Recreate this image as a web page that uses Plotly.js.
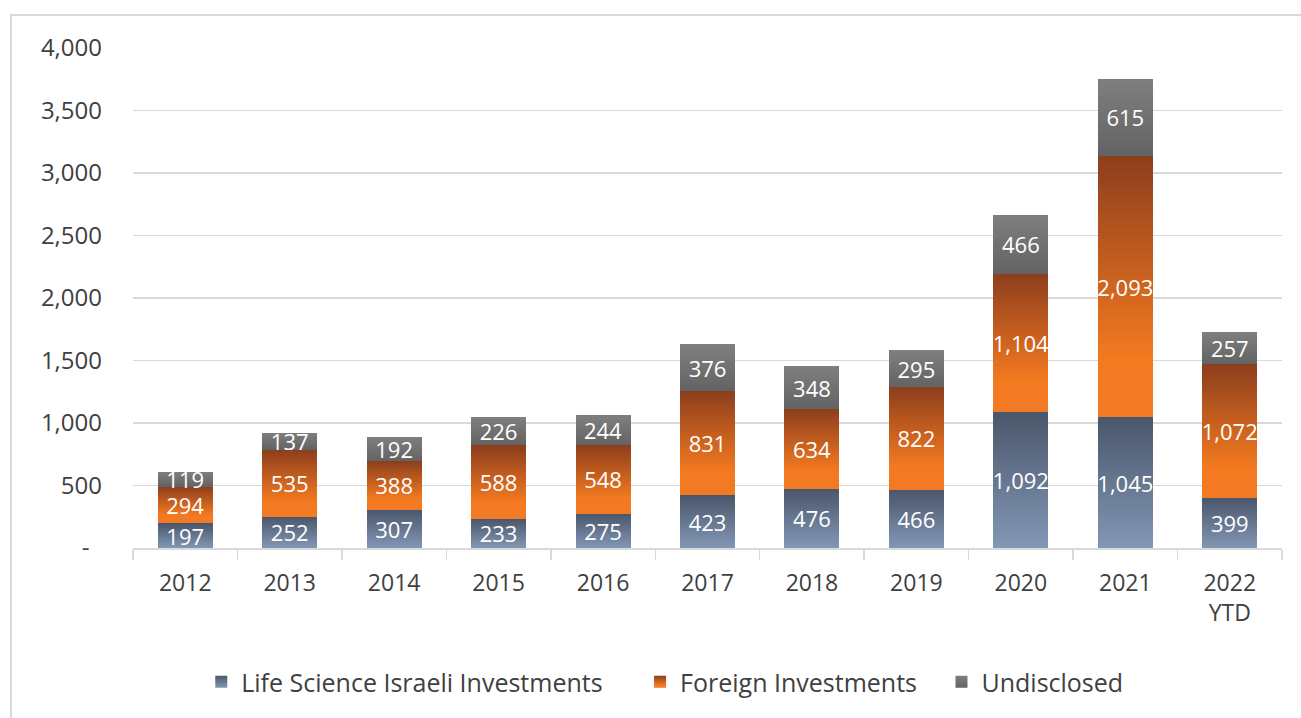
<!DOCTYPE html>
<html>
<head>
<meta charset="utf-8">
<script src="https://cdn.plot.ly/plotly-3.0.1.min.js"></script>
<style>
html,body{margin:0;padding:0;background:#fff;}
#wrap{position:relative;width:1301px;height:718px;overflow:hidden;}
#chart{width:1301px;height:718px;}
#frame{position:absolute;left:10px;top:14px;right:-4px;bottom:-4px;border-top:2px solid #d9d9d9;border-left:2px solid #d9d9d9;pointer-events:none;}
</style>
</head>
<body>
<div id="wrap"><div id="chart"></div><div id="frame"></div></div>
<script>
const categories = ['2012','2013','2014','2015','2016','2017','2018','2019','2020','2021','2022<br>YTD'];
const israeli     = [197, 252, 307, 233, 275, 423, 476, 466, 1092, 1045, 399];
const foreign     = [294, 535, 388, 588, 548, 831, 634, 822, 1104, 2093, 1072];
const undisclosed = [119, 137, 192, 226, 244, 376, 348, 295, 466, 615, 257];
const seriesNames = ['Life Science Israeli Investments\u00a0\u00a0\u00a0\u00a0\u00a0', 'Foreign Investments\u00a0\u00a0\u00a0', 'Undisclosed'];
const yTickVals = [0, 500, 1000, 1500, 2000, 2500, 3000, 3500, 4000];
const yTickText = ['-\u00a0\u00a0', '500', '1,000', '1,500', '2,000', '2,500', '3,000', '3,500', '4,000'];

const FONT = 'Open Sans, Noto Sans, sans-serif';
const solid = ['#65789a', '#d8651f', '#707070'];
const gradStops = [
  [['0%', '#4a566a'], ['100%', '#8297b5']],
  [['0%', '#8c3e1d'], ['78%', '#f47a20'], ['100%', '#f27a25']],
  [['0%', '#7f7f7f'], ['100%', '#636363']]
];

function mk(name, vals, i) {
  return {
    type: 'bar', name: name, x: categories, y: vals,
    marker: {color: solid[i], line: {width: 0}},
    texttemplate: '%{y:,}', textposition: 'inside', insidetextanchor: 'middle',
    textangle: 0,
    textfont: {color: '#ffffff', size: 22, family: FONT},
    constraintext: 'none', hoverinfo: 'skip'
  };
}
const data = [mk(seriesNames[0], israeli, 0), mk(seriesNames[1], foreign, 1), mk(seriesNames[2], undisclosed, 2)];

const layout = {
  width: 1301, height: 718,
  margin: {l: 133, r: 19, t: 48, b: 170},
  paper_bgcolor: '#ffffff', plot_bgcolor: '#ffffff',
  barmode: 'stack', bargap: 0.474,
  font: {family: FONT, color: '#404040', size: 22},
  uniformtext: {mode: 'show', minsize: 22},
  xaxis: {
    type: 'category', showgrid: false, showline: true, linecolor: '#d9d9d9', linewidth: 1.5,
    ticks: 'outside', tickson: 'boundaries', ticklen: 10, tickcolor: '#d9d9d9', tickwidth: 1.5,
    tickfont: {size: 23, color: '#404040', family: FONT}, ticklabelstandoff: 14, fixedrange: true
  },
  yaxis: {
    range: [0, 4000], tickvals: yTickVals, ticktext: yTickText,
    showgrid: true, gridcolor: '#d9d9d9', gridwidth: 1.5, zeroline: false, showline: false,
    tickfont: {size: 24, color: '#404040', family: FONT}, ticklabelstandoff: 30, fixedrange: true
  },
  showlegend: true,
  legend: {
    orientation: 'h', x: 0.0594, xanchor: 'left', y: -0.268, yanchor: 'middle',
    traceorder: 'normal', font: {size: 25, color: '#404040', family: FONT},
    itemclick: false, itemdoubleclick: false
  }
};

function applyGradients(gd) {
  const ns = 'http://www.w3.org/2000/svg';
  const svg = gd.querySelector('svg.main-svg');
  if (!svg) return;
  const defs = document.createElementNS(ns, 'defs');
  gradStops.forEach((stops, i) => {
    const lg = document.createElementNS(ns, 'linearGradient');
    lg.setAttribute('id', 'barGrad' + i);
    lg.setAttribute('x1', '0'); lg.setAttribute('y1', '0');
    lg.setAttribute('x2', '0'); lg.setAttribute('y2', '1');
    stops.forEach(s => {
      const st = document.createElementNS(ns, 'stop');
      st.setAttribute('offset', s[0]);
      st.setAttribute('stop-color', s[1]);
      lg.appendChild(st);
    });
    defs.appendChild(lg);
  });
  svg.insertBefore(defs, svg.firstChild);
  gd.querySelectorAll('g.trace.bars').forEach((t, i) => {
    t.querySelectorAll('g.point path').forEach(p => { p.style.fill = 'url(#barGrad' + i + ')'; });
  });
  gd.querySelectorAll('g.legend g.traces').forEach((t, i) => {
    t.querySelectorAll('.legendpoints path').forEach(p => { p.style.fill = 'url(#barGrad' + i + ')'; });
  });
}

Plotly.newPlot('chart', data, layout, {displayModeBar: false, staticPlot: true}).then(applyGradients);
</script>
</body>
</html>
